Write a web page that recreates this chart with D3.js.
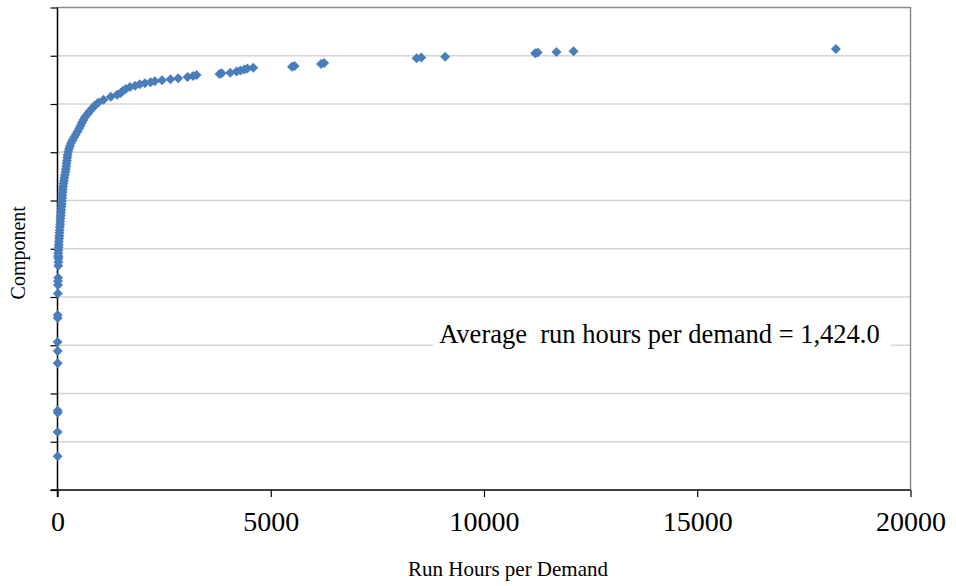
<!DOCTYPE html>
<html>
<head>
<meta charset="utf-8">
<script src="https://cdn.jsdelivr.net/npm/d3@7"></script>
<style>
  body { margin: 0; background: white; }
  text { font-family: "Liberation Serif", "Times New Roman", serif; fill: #000; }
</style>
</head>
<body>
<div id="chart"></div>
<script>
// run hours per demand, one value per component (sorted)
var hours = [
  5, 3, 6, 4, 5, 4, 2, 6, 5,
  8, 12, 10, 15, 18, 20, 22, 25,
  12, 18, 22, 26, 30, 33, 38, 42, 47, 52, 56, 61, 66, 71, 77, 83, 88, 94, 99, 104,
  109, 114, 119, 125, 131, 140, 150, 162, 175, 186, 196, 205, 213, 221, 229, 237,
  250, 270, 293, 317, 352, 392, 430, 470, 505, 540, 573, 607, 645, 700, 755, 815,
  875, 960, 1080, 1250, 1400, 1480, 1530, 1600, 1700, 1820, 1930, 2050, 2180, 2280,
  2450, 2650, 2830, 3050, 3180, 3260, 3800, 3850, 4050, 4200, 4290, 4380, 4450, 4590,
  5500, 5560, 6180, 6250, 8420, 8530, 9090, 11200, 11260, 11700, 12100, 18250
];
// component position on the vertical axis
var component = [
  14, 24, 32, 33, 52.5, 57.6, 61.3, 71.3, 72.5,
  81.5, 85, 86.5, 88, 93, 94.5, 96, 96.8,
  97.0, 98.2, 99.4, 100.6, 101.8, 103.0, 104.2, 105.4, 106.6, 107.8, 109.0, 110.2, 111.4, 112.6, 113.8, 115.0, 116.2, 117.4, 118.6, 119.8,
  121.0, 122.2, 123.4, 124.6, 125.8, 127.0, 128.2, 129.4, 130.6, 131.8, 133.0, 134.2, 135.4, 136.6, 137.8, 139.0,
  140.2, 141.4, 142.6, 143.8, 145.0, 146.2, 147.4, 148.6, 149.8, 151.0, 152.2, 153.4, 154.6, 155.8, 157.0, 158.2,
  159.4, 160.6, 161.8, 163.0, 163.8, 164.6, 165.4, 166.2, 167.0, 167.6, 168.2, 168.6, 169.0, 169.4,
  169.8, 170.3, 170.7, 171.2, 171.6, 172.0, 172.4, 172.7, 173.0, 173.5, 173.9, 174.3, 174.7, 175.0,
  175.4, 175.7, 176.6, 177.0, 179.0, 179.3, 179.6, 181.0, 181.3, 181.6, 181.9, 182.8
];
var xTicks = [0, 5000, 10000, 15000, 20000];
var yTicks = [0, 20, 40, 60, 80, 100, 120, 140, 160, 180, 200];
var note = "Average\u00a0 run hours per demand = 1,424.0";

var width = 956, height = 586;
var margin = {left: 57.5, right: 45.5, top: 7.5, bottom: 96};

var svg = d3.select("#chart")
  .append("svg")
    .attr("width", width)
    .attr("height", height)
    .style("background", "white");

var x = d3.scaleLinear()
  .domain([0, 20000])
  .range([margin.left, width - margin.right]);

var y = d3.scaleLinear()
  .domain([0, 200])
  .range([height - margin.bottom, margin.top]);

// horizontal gridlines
svg.append("g")
  .selectAll("line")
  .data(yTicks.slice(1, -1))
  .enter()
  .append("line")
    .attr("x1", x(0))
    .attr("x2", x(20000))
    .attr("y1", function(d){ return y(d); })
    .attr("y2", function(d){ return y(d); })
    .attr("stroke", "#d4d4d4")
    .attr("stroke-width", 1.5);

// plot border (top + right)
svg.append("path")
  .attr("d", "M" + x(0) + "," + y(200) + "H" + x(20000) + "V" + y(0))
  .attr("fill", "none")
  .attr("stroke", "#8c8c8c")
  .attr("stroke-width", 1.5);

// note box, white behind the text covers the gridline
var noteG = svg.append("g");
noteG.append("rect")
  .attr("x", x(8800))
  .attr("y", y(73))
  .attr("width", x(19550) - x(8800))
  .attr("height", y(58) - y(73))
  .attr("fill", "white");
noteG.append("text")
  .attr("x", x(8950))
  .attr("y", y(61))
  .style("font-size", "26.5px")
  .text(note);

// x axis
var xAxis = svg.append("g")
  .attr("transform", "translate(0," + y(0) + ")")
  .call(d3.axisBottom(x).tickValues(xTicks).tickSize(7).tickPadding(14).tickFormat(d3.format("d")));
xAxis.select(".domain").attr("d", "M" + (x(0) - 7) + ",0H" + x(20000)).attr("stroke", "#000").attr("stroke-width", 1.5);
xAxis.selectAll(".tick line").attr("stroke", "#000").attr("stroke-width", 1.2);
xAxis.selectAll(".tick text")
  .style("font-family", "'Liberation Serif', serif")
  .style("font-size", "28px")
  .attr("fill", "#000");

// y axis (ticks only, no labels)
var yAxis = svg.append("g")
  .attr("transform", "translate(" + x(0) + ",0)")
  .call(d3.axisLeft(y).tickValues(yTicks).tickSize(7).tickFormat(""));
yAxis.select(".domain").attr("d", "M0," + y(200) + "V" + (y(0) + 7)).attr("stroke", "#000").attr("stroke-width", 1.5);
yAxis.selectAll(".tick line").attr("stroke", "#000").attr("stroke-width", 1.2);

// axis titles
svg.append("text")
  .attr("x", x(10000) + 24)
  .attr("y", height - 10)
  .attr("text-anchor", "middle")
  .style("font-size", "21px")
  .text("Run Hours per Demand");

svg.append("text")
  .attr("transform", "translate(25," + (y(100) + 4) + ") rotate(-90)")
  .attr("text-anchor", "middle")
  .style("font-size", "20px")
  .text("Component");

// diamonds
var idx = d3.range(hours.length);
svg.append("g")
  .selectAll("path")
  .data(idx)
  .enter()
  .append("path")
    .attr("d", "M0,-5L5,0L0,5L-5,0Z")
    .attr("transform", function(i){ return "translate(" + x(hours[i]) + "," + y(component[i]) + ")"; })
    .attr("fill", "#4a7ebb");
</script>
</body>
</html>
